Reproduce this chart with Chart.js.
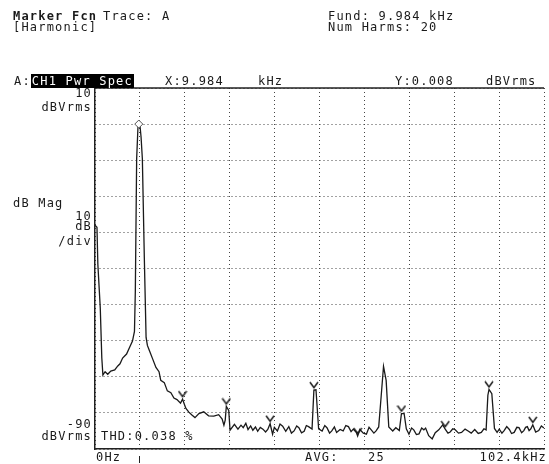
<!DOCTYPE html>
<html>
<head>
<meta charset="utf-8">
<script src="https://cdn.jsdelivr.net/npm/chart.js@4.4.0/dist/chart.umd.min.js"></script>
<style>
body { margin: 0; background: #fff; width: 549px; height: 464px; overflow: hidden; position: relative; }
canvas { position: absolute; left: 0; top: 0; }
.t { position: absolute; font-family: 'DejaVu Sans Mono', monospace; font-size: 12px; line-height: 12px; color: #1a1a1a; letter-spacing: 1.2px; white-space: pre; }
.b { font-weight: bold; }
.hl { background: #000; color: #fff; padding: 0 1px; }
</style>
</head>
<body>
<canvas id="spec" width="549" height="464"></canvas>

<!-- header -->
<div class="t b" style="left:13px; top:10px">Marker Fcn</div>
<div class="t" style="left:103px; top:10px">Trace: A</div>
<div class="t" style="left:13px; top:21px">[Harmonic]</div>
<div class="t" style="left:328px; top:10px">Fund: 9.984 kHz</div>
<div class="t" style="left:328px; top:21px">Num Harms: 20</div>

<div class="t" style="left:14px; top:75px">A:<span class="hl">CH1 Pwr Spec</span></div>
<div class="t" style="left:165px; top:75px">X:9.984</div>
<div class="t" style="left:258px; top:75px">kHz</div>
<div class="t" style="left:395px; top:75px">Y:0.008</div>
<div class="t" style="left:486px; top:75px">dBVrms</div>

<!-- y annotations -->
<div class="t" style="right:457px; top:87px">10</div>
<div class="t" style="right:457px; top:101px">dBVrms</div>
<div class="t" style="left:13px; top:197px">dB Mag</div>
<div class="t" style="right:457px; top:210px">10</div>
<div class="t" style="right:457px; top:220px">dB</div>
<div class="t" style="right:457px; top:235px">/div</div>
<div class="t" style="right:457px; top:418px">-90</div>
<div class="t" style="right:457px; top:430px">dBVrms</div>

<div class="t" style="left:101px; top:430px">THD:0.038 %</div>

<!-- x annotations -->
<div class="t" style="left:96px; top:451px">0Hz</div>
<div class="t" style="left:305px; top:451px">AVG:</div>
<div class="t" style="left:368px; top:451px">25</div>
<div class="t" style="right:2px; top:451px">102.4kHz</div>

<script>
// Spectrum trace (kHz, dBVrms)
const traceFreq = [0.0, 0.45, 0.65, 1.2, 1.55, 1.8, 2.3, 2.9, 3.6, 4.5, 5.2, 5.7, 6.3, 7.2, 7.9, 8.55, 9.0, 9.2, 9.5, 9.8,
    9.984, 10.25, 10.5, 10.8, 11.25, 11.65, 11.95, 12.4, 13.1, 13.9, 14.6, 15.0, 15.8, 16.5, 17.3, 18.0, 18.7, 19.5,
    19.97, 20.7, 21.4, 22.1, 22.8, 23.7, 24.8, 25.9, 27.1, 28.2, 29.0, 29.4, 29.7, 29.95, 30.5, 30.8, 31.8, 32.6,
    33.3, 33.8, 34.4, 34.9, 35.5, 36.0, 36.6, 37.1, 37.7, 38.3, 38.9, 39.4, 39.94, 40.5, 40.9, 41.6, 42.2, 42.8, 43.5,
    44.2, 44.8, 45.4, 46.0, 46.5, 47.1, 47.7, 48.2, 48.7, 49.5,
    49.92, 50.4, 51.0, 51.8, 52.4, 52.9, 53.5, 54.0, 54.6, 55.1, 55.9, 56.6, 57.2, 57.8, 58.4, 58.9, 59.6, 59.9, 60.4, 61.2, 61.9,
    62.5, 63.0, 63.6, 64.1, 64.7,
    65.25, 65.8, 66.4, 67.0, 67.9, 68.6, 69.4, 69.89, 70.5, 71.0, 71.6, 72.2, 72.7, 73.3, 73.9, 74.5, 75.0, 75.4, 76.1, 76.9, 77.6, 78.4,
    79.3, 79.87, 80.5, 81.0, 81.6, 82.1, 82.9, 83.6, 84.4, 85.1, 85.8, 86.6, 87.4, 88.1, 88.7, 89.2, 89.6, 89.86, 90.5, 91.1, 91.7, 92.2,
    92.8, 93.3, 93.9, 94.5, 95.0, 95.6, 96.2, 96.7, 97.3, 97.8, 98.2, 98.6, 99.0, 99.4, 99.84, 100.5, 101.2, 101.8, 102.4];
const traceDb = [-28.0, -28.6, -38.8, -50.9, -64.7, -69.5, -68.6, -69.3, -68.4, -68.1, -67.0, -66.4, -64.8, -63.7, -61.8, -60.1, -57.4, -46.2, -9.6, -0.8,
    0.008, -0.3, -3.5, -9.6, -37.1, -59.1, -61.3, -62.7, -64.9, -67.4, -68.6, -71.0, -71.6, -73.9, -74.4, -75.9, -76.3, -77.3,
    -76.2, -78.7, -79.8, -80.6, -81.3, -80.2, -79.7, -80.8, -80.9, -80.5, -81.7, -83.4, -82.0, -78.2, -79.3, -84.8, -83.2, -84.5,
    -83.4, -84.1, -82.9, -84.6, -83.6, -84.8, -83.9, -85.1, -84.0, -84.5, -85.3, -84.6, -83.0, -85.9, -84.0, -85.0, -83.1, -83.7, -85.1,
    -83.8, -85.6, -85.0, -83.6, -84.1, -85.5, -85.1, -83.5, -83.8, -84.5,
    -73.7, -73.6, -84.4, -85.0, -83.5, -84.1, -85.6, -85.0, -83.9, -85.4, -84.6, -85.0, -83.5, -83.8, -85.2, -84.5, -85.4, -86.4, -84.6, -85.6, -85.9,
    -84.0, -84.7, -85.6, -85.0, -83.9,
    -75.6, -67.1, -71.0, -83.9, -85.0, -84.1, -84.9, -80.2, -80.2, -84.4, -85.9, -84.2, -84.7, -86.0, -85.8, -84.2, -84.7, -84.2, -86.3, -87.2, -85.5, -84.7,
    -83.3, -84.5, -85.6, -85.3, -84.4, -84.6, -85.6, -85.4, -84.5, -85.0, -85.6, -84.6, -85.7, -85.4, -84.4, -84.7, -75.1, -73.5, -74.7, -84.3, -85.4, -84.5,
    -85.6, -84.9, -83.8, -84.6, -85.7, -85.4, -84.0, -84.1, -85.5, -84.9, -84.0, -83.8, -84.9, -84.4, -83.3, -85.3, -84.9, -83.6, -84.2];

// Harmonic markers 2..10
const harmFreq = [19.968, 29.952, 39.936, 49.92, 59.904, 69.888, 79.872, 89.856, 99.84];
const harmDb = [-76.2, -78.2, -83.0, -73.7, -86.4, -80.2, -84.5, -73.5, -83.3];

// Main marker
const markFreq = 9.984;
const markDb = 0.008;

// Axis grid
const xGrid = [0, 10.24, 20.48, 30.72, 40.96, 51.2, 61.44, 71.68, 81.92, 92.16, 102.4];
const yMin = -90, yMax = 10, yStep = 10;

// harmonic "v" glyph, tip sits just above its point
function makeV() {
    const c = document.createElement('canvas');
    c.width = 10; c.height = 18;
    const g = c.getContext('2d');
    g.strokeStyle = '#1a1a1a';
    g.lineWidth = 1.5;
    g.beginPath();
    g.moveTo(1, 1); g.lineTo(5, 6.5); g.lineTo(9, 1);
    g.stroke();
    return c;
}

const framePlugin = {
    id: 'frame',
    afterDraw(chart) {
        const { ctx, chartArea: a, scales } = chart;
        ctx.save();
        ctx.strokeStyle = '#222';
        ctx.lineWidth = 1.5;
        ctx.beginPath();
        ctx.moveTo(a.left, a.top); ctx.lineTo(a.right, a.top);
        ctx.stroke();
        // marker position tick under the axis
        const mx = Math.round(scales.x.getPixelForValue(markFreq)) + 0.5;
        ctx.lineWidth = 1;
        ctx.beginPath();
        ctx.moveTo(mx, a.bottom + 7); ctx.lineTo(mx, a.bottom + 14);
        ctx.stroke();
        ctx.restore();
    }
};

const ctx = document.getElementById('spec').getContext('2d');
new Chart(ctx, {
    type: 'line',
    data: {
        datasets: [
            { data: [{ x: markFreq, y: markDb }], showLine: false, pointStyle: 'rectRot', pointRadius: 4, borderColor: '#555', backgroundColor: '#fff', borderWidth: 1, order: 1 },
            { data: harmFreq.map((f, i) => ({ x: f, y: harmDb[i] })), showLine: false, pointStyle: makeV(), order: 2 },
            { data: traceFreq.map((f, i) => ({ x: f, y: traceDb[i] })), borderColor: '#1a1a1a', borderWidth: 1.3, pointRadius: 0, tension: 0, fill: false, order: 3 }
        ]
    },
    options: {
        responsive: false,
        animation: false,
        layout: { padding: { left: 95, top: 88, right: 0, bottom: 15 } },
        plugins: { legend: { display: false }, tooltip: { enabled: false } },
        scales: {
            x: {
                type: 'linear', min: 0, max: 102.4,
                afterBuildTicks: s => { s.ticks = xGrid.map(v => ({ value: v })); },
                ticks: { display: false },
                grid: { color: '#444', lineWidth: 1, drawTicks: false },
                border: { display: true, color: '#222', width: 1.5, dash: [1, 3] }
            },
            y: {
                min: yMin, max: yMax,
                ticks: { display: false, stepSize: yStep },
                grid: { color: '#444', lineWidth: 1, drawTicks: false },
                border: { display: true, color: '#222', width: 1.5, dash: [1, 3] }
            }
        }
    },
    plugins: [framePlugin]
});
</script>
</body>
</html>
